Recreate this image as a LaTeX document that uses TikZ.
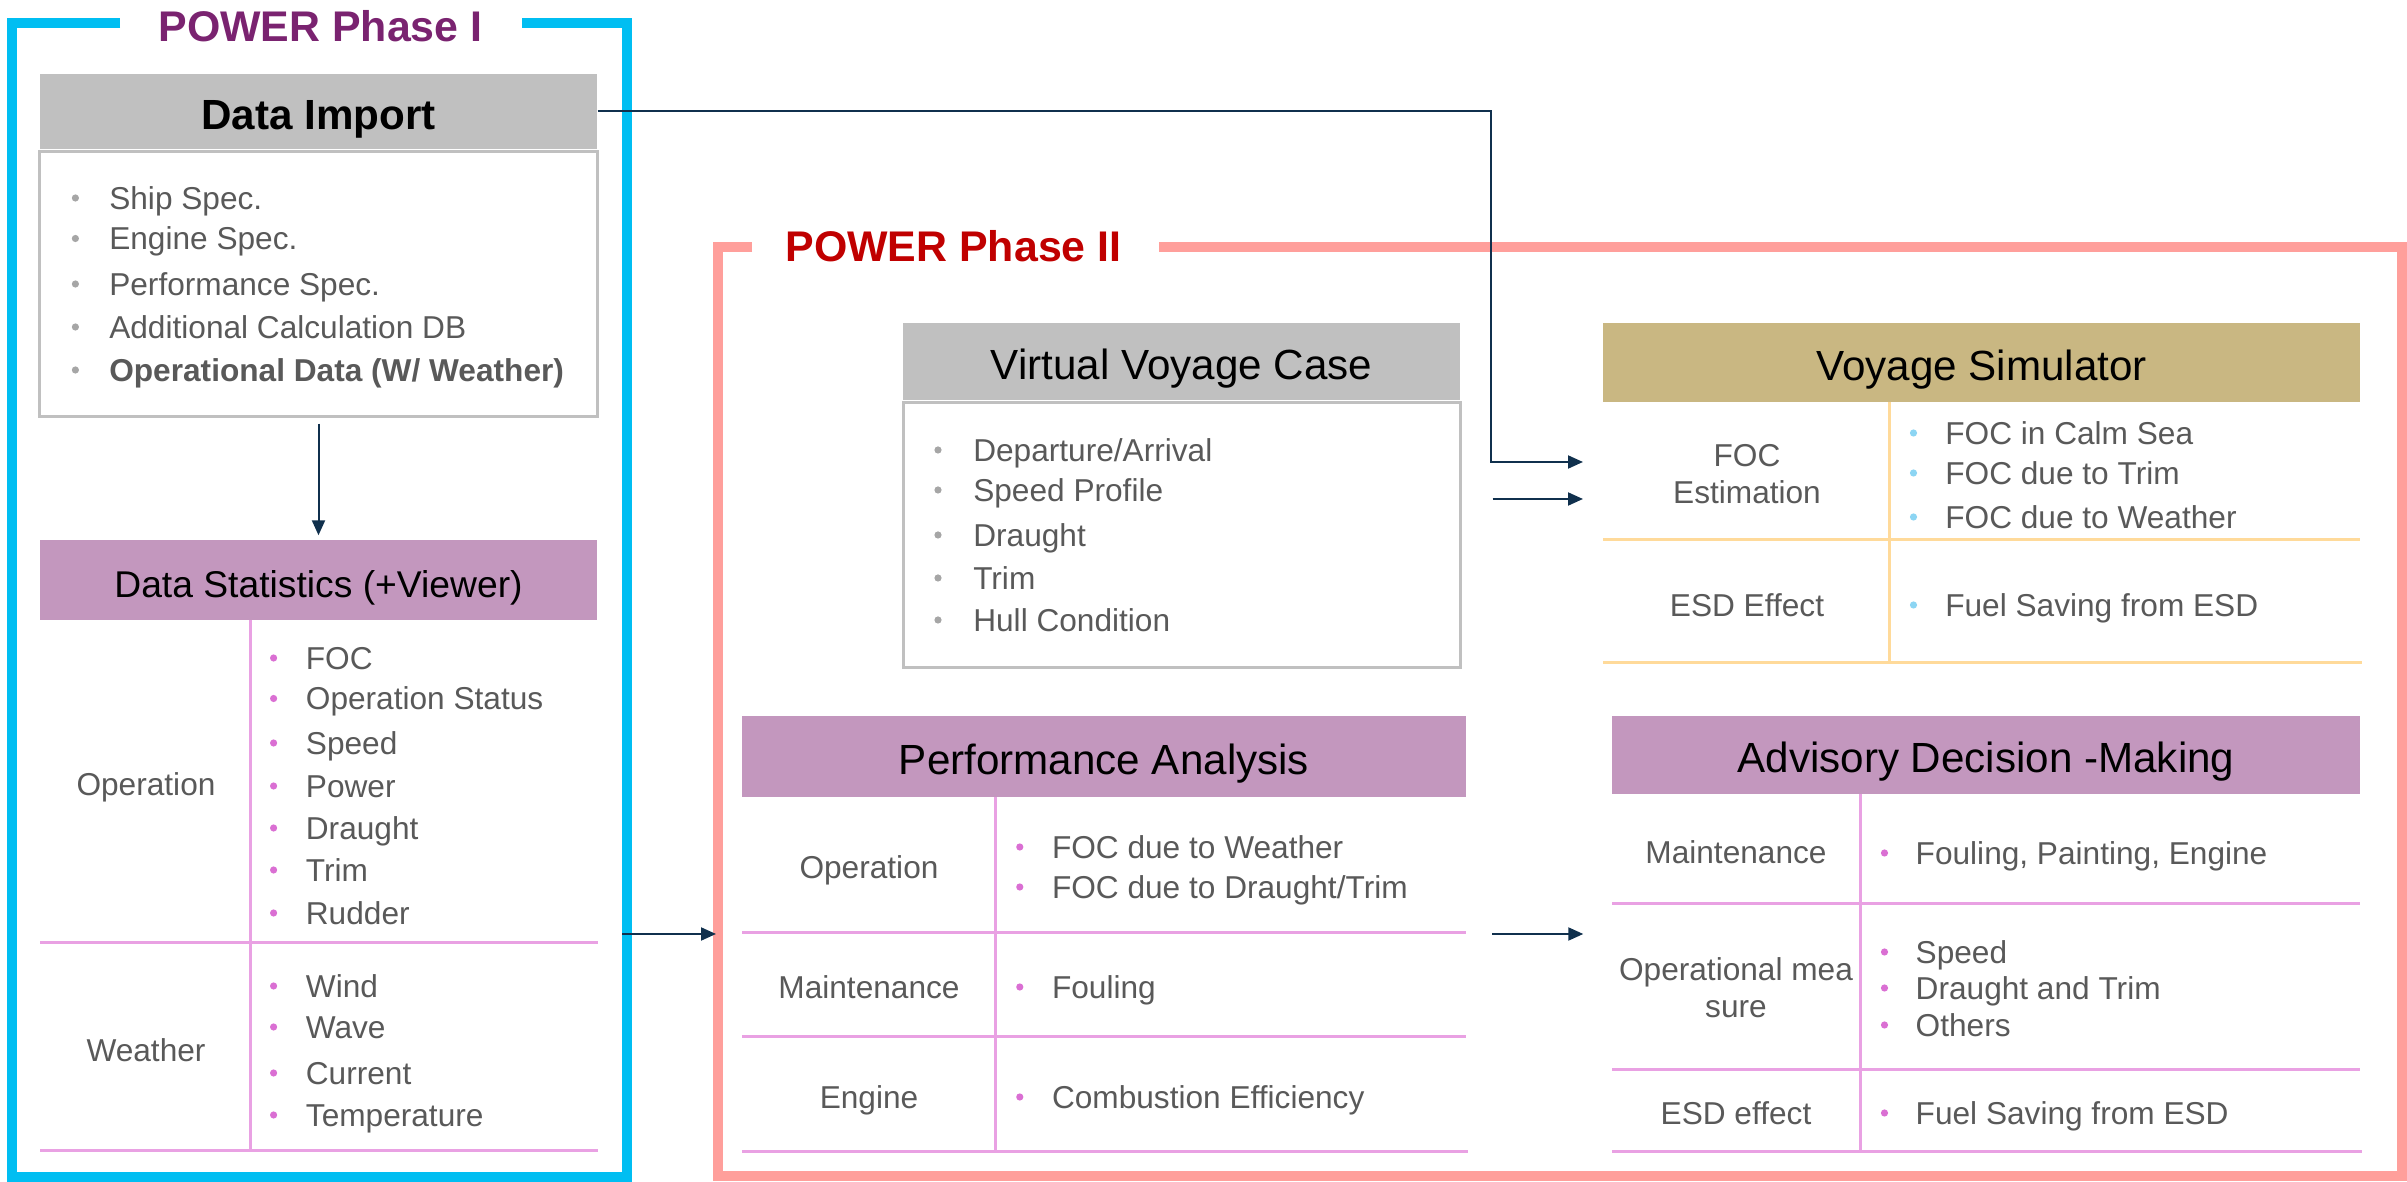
\documentclass[tikz,border=0pt]{standalone}
\usepackage{fontspec}
\setmainfont{Liberation Sans}
\usetikzlibrary{arrows.meta,positioning}
\definecolor{frameblue}{HTML}{00BEF2}
\definecolor{framered}{HTML}{FF9F9B}
\definecolor{ttlpurple}{HTML}{7A2370}
\definecolor{ttlred}{HTML}{C00000}
\definecolor{hdrgrey}{HTML}{C0C0C0}
\definecolor{hdrpurple}{HTML}{C397BE}
\definecolor{hdrtan}{HTML}{C9B782}
\definecolor{rulepink}{HTML}{E9A1E3}
\definecolor{ruleyel}{HTML}{FFDA9A}
\definecolor{bulpink}{HTML}{DA6FD3}
\definecolor{bulblue}{HTML}{8CD5F3}
\definecolor{bulgrey}{HTML}{A6A6A6}
\definecolor{txtgrey}{HTML}{595959}
\definecolor{arrnavy}{HTML}{10304D}

\begin{document}
\begin{tikzpicture}[x=1mm, y=-1mm, >={Triangle[length=1.5mm, width=1.3mm]},
  phaseframe/.style={line width=1mm},
  phase/.style={inner sep=0, font=\bfseries\fontsize{12.2}{14}\selectfont},
  hdr/.style={inner sep=0, text=black, text height=4.2mm, text depth=0.6mm, font=\fontsize{12}{14}\selectfont},
  body/.style={draw=hdrgrey, line width=0.3mm, inner sep=0, minimum width=55.7mm, minimum height=26.5mm},
  tabrule/.style={line width=0.3mm},
  item/.style={anchor=west, inner sep=0, text=txtgrey, text height=2.8mm, text depth=0.55mm, font=\fontsize{9}{11}\selectfont},
  lblbase/.style={inner sep=0, text=txtgrey, align=center, font=\fontsize{9}{10.6}\selectfont},
  lbl/.style={lblbase, text height=2.8mm, text depth=0.55mm},
  conn/.style={->, draw=arrnavy, line width=0.2mm}]
  \useasboundingbox (0,0) rectangle (240.7,118.2);

  \draw[phaseframe, frameblue] (12.0,2.35) -- (1.2,2.35) -- (1.2,117.7) -- (62.7,117.7) -- (62.7,2.35) -- (52.2,2.35);
  \node[phase, text=ttlpurple] (ph1) at (32.05,2.6) {POWER Phase I};

  \node[hdr, fill=hdrgrey, minimum width=55.7mm, minimum height=7.5mm, font=\bfseries\fontsize{12}{14}\selectfont] (imp) at (31.85,11.15) {Data Import};
  \node[body, below=0pt of imp] (impbody) {};
  \foreach \y/\t [count=\i] in {19.8/Ship Spec., 23.85/Engine Spec., 28.4/Performance Spec., 32.7/Additional Calculation DB, 37.0/{\textbf{Operational Data (W/ Weather)}}}
  {
    \fill[bulgrey] (7.54,\y) circle (0.36mm);
    \node[item] (imp-\i) at (10.86,\y) {\t};
  }

  \node[hdr, fill=hdrpurple, minimum width=55.7mm, minimum height=8mm, font=\fontsize{10.6}{12}\selectfont] (stat) at (31.85,58.0) {Data Statistics (+Viewer)};
  \draw[conn, shorten <=0.6mm, shorten >=0.4mm] (impbody) -- (stat);
  \draw[tabrule, rulepink] (25.0,62.0) -- (25.0,115.2) (4.0,94.3) -- (59.8,94.3) (4.0,115.1) -- (59.8,115.1);
  \node[lbl] (stat-op) at (14.6,78.4) {Operation};
  \node[lbl] (stat-wx) at (14.6,105.0) {Weather};
  \foreach \y/\t [count=\i] in {65.8/FOC, 69.85/Operation Status, 74.3/Speed, 78.6/Power, 82.8/Draught, 87.0/Trim, 91.3/Rudder, 98.6/Wind, 102.7/Wave, 107.3/Current, 111.5/Temperature}
  {
    \fill[bulpink] (27.36,\y) circle (0.36mm);
    \node[item] (stat-\i) at (30.52,\y) {\t};
  }

  \draw[phaseframe, framered] (75.2,24.7) -- (71.8,24.7) -- (71.8,117.6) -- (240.2,117.6) -- (240.2,24.7) -- (115.9,24.7);
  \node[phase, text=ttlred] (ph2) at (95.35,24.6) {POWER Phase II};

  \node[hdr, fill=hdrgrey, minimum width=55.7mm, minimum height=7.7mm] (vvc) at (118.15,36.15) {Virtual Voyage Case};
  \node[body, below=0pt of vvc] (vvcbody) {};
  \foreach \y/\t [count=\i] in {45.0/{Departure/Arrival}, 49.0/Speed Profile, 53.5/Draught, 57.8/Trim, 62.0/Hull Condition}
  {
    \fill[bulgrey] (93.8,\y) circle (0.36mm);
    \node[item] (vvc-\i) at (97.26,\y) {\t};
  }

  \node[hdr, fill=hdrtan, minimum width=75.7mm, minimum height=7.9mm] (sim) at (198.15,36.25) {Voyage Simulator};
  \draw[tabrule, ruleyel] (188.9,40.2) -- (188.9,66.3) (160.3,54.0) -- (236.0,54.0) (160.3,66.3) -- (236.2,66.3);
  \node[lblbase] (sim-foc) at (174.7,47.4) {FOC\\Estimation};
  \node[lbl] (sim-esd) at (174.7,60.5) {ESD Effect};
  \foreach \y/\t [count=\i] in {43.3/FOC in Calm Sea, 47.3/FOC due to Trim, 51.7/FOC due to Weather, 60.5/Fuel Saving from ESD}
  {
    \fill[bulblue] (191.35,\y) circle (0.36mm);
    \node[item] (sim-\i) at (194.46,\y) {\t};
  }

  \coordinate (elbow) at (149.1,46.2);
  \coordinate (simin1) at (158.3,46.2);
  \coordinate (simin2) at (158.3,49.9);
  \draw[conn] (imp.east) -| (elbow) -- (simin1);
  \draw[conn, shorten <=3.1mm] (vvcbody.east |- simin2) -- (simin2);

  \node[hdr, fill=hdrpurple, minimum width=72.4mm, minimum height=8.1mm] (perf) at (110.4,75.65) {Performance Analysis};
  \draw[tabrule, rulepink] (99.55,79.7) -- (99.55,115.2) (74.2,93.3) -- (146.6,93.3) (74.2,103.7) -- (146.6,103.7) (74.2,115.2) -- (146.8,115.2);
  \node[lbl] (perf-op) at (86.9,86.7) {Operation};
  \node[lbl] (perf-mt) at (86.9,98.7) {Maintenance};
  \node[lbl] (perf-en) at (86.9,109.7) {Engine};
  \foreach \y/\t [count=\i] in {84.7/FOC due to Weather, 88.7/{FOC due to Draught/Trim}, 98.7/Fouling, 109.7/Combustion Efficiency}
  {
    \fill[bulpink] (101.98,\y) circle (0.36mm);
    \node[item] (perf-\i) at (105.13,\y) {\t};
  }

  \node[hdr, fill=hdrpurple, minimum width=74.8mm, minimum height=7.8mm] (adv) at (198.6,75.5) {Advisory Decision -Making};
  \draw[tabrule, rulepink] (186.0,79.4) -- (186.0,115.2) (161.2,90.4) -- (236.0,90.4) (161.2,107.0) -- (236.0,107.0) (161.2,115.2) -- (236.2,115.2);
  \node[lbl] (adv-mt) at (173.6,85.2) {Maintenance};
  \node[lblbase] (adv-op) at (173.6,98.8) {Operational mea\\sure};
  \node[lbl] (adv-esd) at (173.6,111.3) {ESD effect};
  \foreach \y/\t [count=\i] in {85.3/{Fouling, Painting, Engine}, 95.2/Speed, 98.8/Draught and Trim, 102.5/Others, 111.3/Fuel Saving from ESD}
  {
    \fill[bulpink] (188.45,\y) circle (0.36mm);
    \node[item] (adv-\i) at (191.5,\y) {\t};
  }

  \coordinate (rowa) at (0,93.4);
  \coordinate (p1out) at (62.2,93.4);
  \coordinate (p2in) at (71.6,93.4);
  \draw[conn] (p1out) -- (p2in);
  \draw[conn, shorten <=2.55mm, shorten >=2.8mm] (perf.east |- rowa) -- (adv.west |- rowa);
\end{tikzpicture}
\end{document}
